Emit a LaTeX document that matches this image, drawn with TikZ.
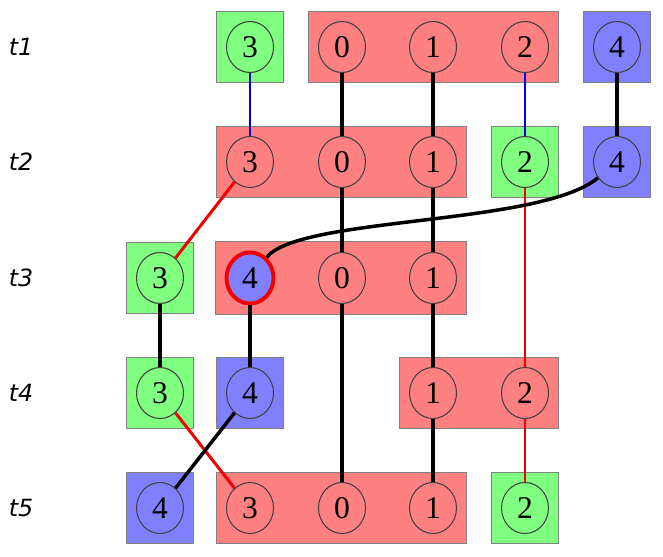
\documentclass[tikz,border=0pt]{standalone}
\usepackage{fontspec}
\setmainfont{Liberation Serif}
\newfontfamily\rowfont{DejaVu Sans}
\usetikzlibrary{shapes.geometric,fit,backgrounds}
\definecolor{boxred}{RGB}{255,128,128}
\definecolor{boxgreen}{RGB}{128,255,128}
\definecolor{boxblue}{RGB}{128,128,255}
\definecolor{linkred}{RGB}{240,0,0}
\definecolor{linkblue}{RGB}{0,0,230}
\tikzset{
  proc/.style={ellipse, draw=black!75, line width=0.6pt, minimum width=0.94cm,
    minimum height=1.02cm, inner sep=0pt, font=\fontsize{18}{20}\selectfont},
  redproc/.style={proc, fill=boxred},
  greenproc/.style={proc, fill=boxgreen},
  blueproc/.style={proc, fill=boxblue},
  group/.style={rectangle, draw=black!50, line width=0.5pt, inner sep=0.19cm},
  redgroup/.style={group, fill=boxred},
  greengroup/.style={group, fill=boxgreen},
  bluegroup/.style={group, fill=boxblue},
  blk/.style={line width=2pt, black},
  redlink/.style={line width=1.7pt, linkred},
  bluelink/.style={line width=1.7pt, linkblue},
  rowlabel/.style={font=\rowfont\itshape\fontsize{13.5}{15}\selectfont}
}
\begin{document}
\begin{tikzpicture}[x=0.02cm, y=0.02cm]
  \useasboundingbox (0,0) rectangle (663,556);
  % time steps
  \foreach \r/\y in {1/509, 2/394, 3/278, 4/163, 5/48}
    \node[rowlabel] (t\r) at (21,\y) {t\r};

  % t1
  \node[greenproc] (t1p3) at (250,509) {3};
  \node[redproc]   (t1p0) at (342,509) {0};
  \node[redproc]   (t1p1) at (433,509) {1};
  \node[redproc]   (t1p2) at (525,509) {2};
  \node[blueproc]  (t1p4) at (617,509) {4};
  % t2
  \node[redproc]   (t2p3) at (250,394) {3};
  \node[redproc]   (t2p0) at (342,394) {0};
  \node[redproc]   (t2p1) at (433,394) {1};
  \node[greenproc] (t2p2) at (525,394) {2};
  \node[blueproc]  (t2p4) at (617,394) {4};
  % t3
  \node[greenproc] (t3p3) at (160,278) {3};
  \node[blueproc, draw=linkred, line width=2.2pt] (t3p4) at (250,278) {4};
  \node[redproc]   (t3p0) at (342,278) {0};
  \node[redproc]   (t3p1) at (433,278) {1};
  % t4
  \node[greenproc] (t4p3) at (160,163) {3};
  \node[blueproc]  (t4p4) at (250,163) {4};
  \node[redproc]   (t4p1) at (433,163) {1};
  \node[redproc]   (t4p2) at (525,163) {2};
  % t5
  \node[blueproc]  (t5p4) at (160,48) {4};
  \node[redproc]   (t5p3) at (250,48) {3};
  \node[redproc]   (t5p0) at (342,48) {0};
  \node[redproc]   (t5p1) at (433,48) {1};
  \node[greenproc] (t5p2) at (525,48) {2};

  % groups
  \begin{scope}[on background layer]
    \node[greengroup, fit=(t1p3)] (g13) {};
    \node[redgroup, fit=(t1p0)(t1p2)] (g10) {};
    \node[bluegroup, fit=(t1p4)] (g14) {};
    \node[redgroup, fit=(t2p3)(t2p1)] (g20) {};
    \node[greengroup, fit=(t2p2)] (g22) {};
    \node[bluegroup, fit=(t2p4)] (g24) {};
    \node[greengroup, fit=(t3p3)] (g33) {};
    \node[redgroup, fit=(t3p4)(t3p1)] (g30) {};
    \node[greengroup, fit=(t4p3)] (g43) {};
    \node[bluegroup, fit=(t4p4)] (g44) {};
    \node[redgroup, fit=(t4p1)(t4p2)] (g41) {};
    \node[bluegroup, fit=(t5p4)] (g54) {};
    \node[redgroup, fit=(t5p3)(t5p1)] (g50) {};
    \node[greengroup, fit=(t5p2)] (g52) {};
  \end{scope}

  % links
  \draw[bluelink] (t1p3) -- (t2p3);
  \draw[blk] (t1p0) -- (t2p0);
  \draw[blk] (t1p1) -- (t2p1);
  \draw[bluelink] (t1p2) -- (t2p2);
  \draw[blk] (t1p4) -- (t2p4);

  \draw[redlink] (t2p3) -- (t3p3);
  \draw[blk] (t2p0) -- (t3p0);
  \draw[blk] (t2p1) -- (t3p1);
  \draw[redlink] (t2p2) -- (t4p2);
  \draw[blk] (t2p4) .. controls (540,330) and (300,340) .. (t3p4);

  \draw[blk] (t3p3) -- (t4p3);
  \draw[blk] (t3p4) -- (t4p4);
  \draw[blk] (t3p0) -- (t5p0);
  \draw[blk] (t3p1) -- (t4p1);

  \draw[redlink] (t4p3) -- (t5p3);
  \draw[blk] (t4p4) -- (t5p4);
  \draw[blk] (t4p1) -- (t5p1);
  \draw[redlink] (t4p2) -- (t5p2);
\end{tikzpicture}
\end{document}
